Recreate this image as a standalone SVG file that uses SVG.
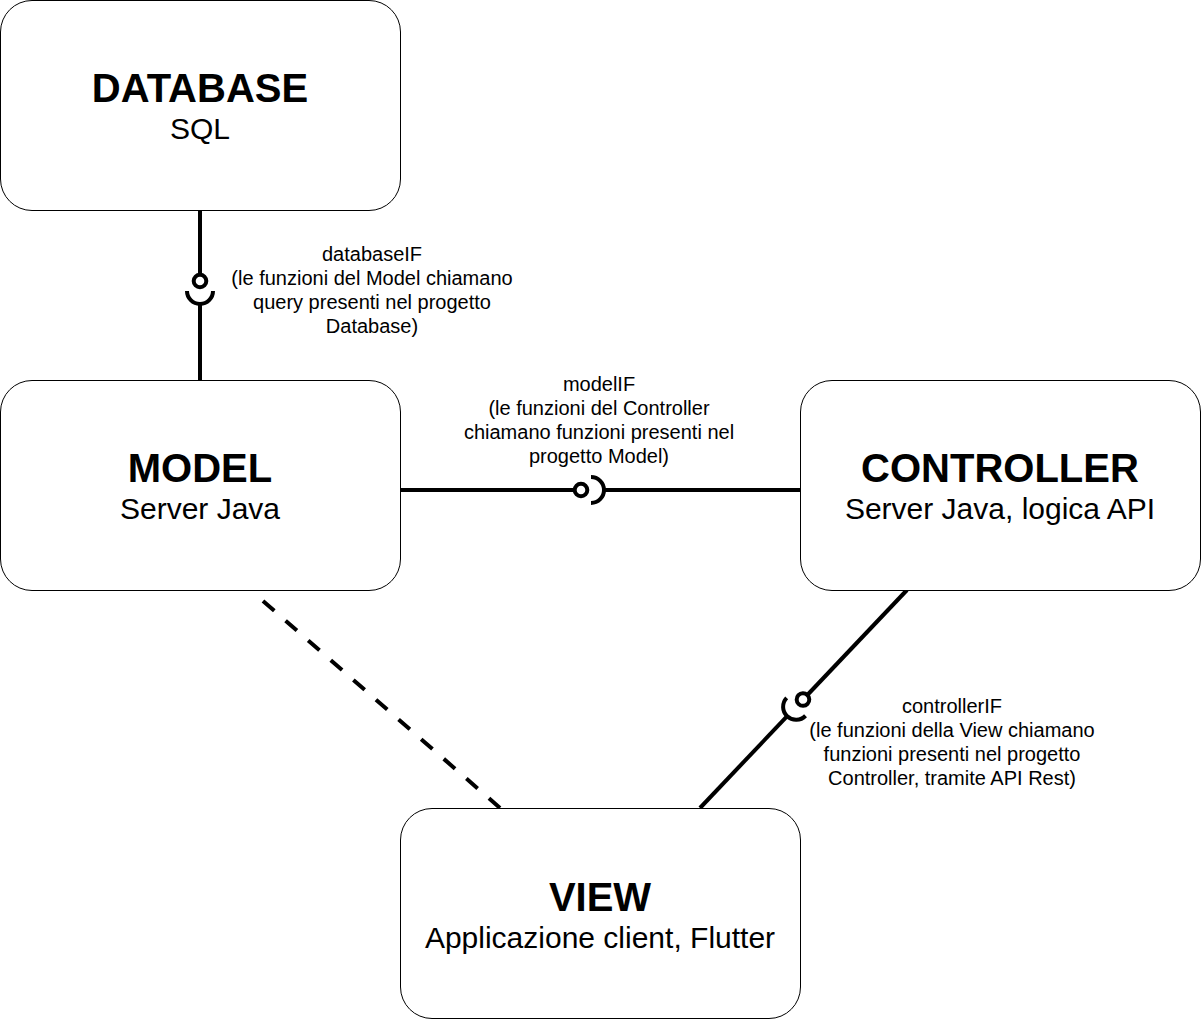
<svg xmlns="http://www.w3.org/2000/svg" width="1201" height="1020" viewBox="0 0 1201 1020">
  <style>
    .box { fill: #ffffff; stroke: #000000; stroke-width: 1; }
    .title { font-family: "Liberation Sans", Arial, sans-serif; font-size: 40px; font-weight: bold; fill: #000; text-anchor: middle; }
    .sub { font-family: "Liberation Sans", Arial, sans-serif; font-size: 30px; fill: #000; text-anchor: middle; }
    .lbl { font-family: "Liberation Sans", Arial, sans-serif; font-size: 20px; fill: #000; text-anchor: middle; }
    .conn { stroke: #000; stroke-width: 4; fill: none; }
    .dash { stroke: #000; stroke-width: 4; fill: none; stroke-dasharray: 15 15; }
    .ball { fill: #ffffff; stroke: #000; stroke-width: 4; }
  </style>
  <defs>
    <g id="iface">
      <circle class="ball" cx="-10" cy="0" r="6.3"/>
      <path class="conn" d="M0,-13 A13,13 0 0 1 0,13"/>
    </g>
  </defs>
  <rect width="1201" height="1020" fill="#ffffff"/>

  <g id="connectors">
    <!-- Database - Model -->
    <line class="conn" x1="200" y1="210" x2="200" y2="282"/>
    <line class="conn" x1="200" y1="303" x2="200" y2="380"/>
    <use href="#iface" transform="translate(200,291) rotate(90)"/>
    <!-- Model - Controller -->
    <line class="conn" x1="400" y1="490" x2="581" y2="490"/>
    <line class="conn" x1="602" y1="490" x2="800" y2="490"/>
    <use href="#iface" transform="translate(591,490)"/>
    <!-- Controller - View -->
    <line class="conn" x1="907" y1="590" x2="802.6" y2="700"/>
    <line class="conn" x1="787.4" y1="715.9" x2="700" y2="808"/>
    <use href="#iface" transform="translate(796.1,706.8) rotate(133.5)"/>
    <!-- Model - View dashed -->
    <line class="dash" x1="263" y1="601" x2="500" y2="808"/>
  </g>

  <g id="labels">
    <text class="lbl" x="372" y="261">databaseIF</text>
    <text class="lbl" x="372" y="285">(le funzioni del Model chiamano</text>
    <text class="lbl" x="372" y="309">query presenti nel progetto</text>
    <text class="lbl" x="372" y="333">Database)</text>

    <text class="lbl" x="599" y="391">modelIF</text>
    <text class="lbl" x="599" y="415">(le funzioni del Controller</text>
    <text class="lbl" x="599" y="439">chiamano funzioni presenti nel</text>
    <text class="lbl" x="599" y="463">progetto Model)</text>

    <text class="lbl" x="952" y="713">controllerIF</text>
    <text class="lbl" x="952" y="737">(le funzioni della View chiamano</text>
    <text class="lbl" x="952" y="761">funzioni presenti nel progetto</text>
    <text class="lbl" x="952" y="785">Controller, tramite API Rest)</text>
  </g>

  <g id="database">
    <rect class="box" x="0.5" y="0.5" width="400" height="210" rx="31.5" ry="31.5"/>
    <text class="title" x="200" y="102">DATABASE</text>
    <text class="sub" x="200" y="139">SQL</text>
  </g>

  <g id="model">
    <rect class="box" x="0.5" y="380.5" width="400" height="210" rx="31.5" ry="31.5"/>
    <text class="title" x="200" y="482">MODEL</text>
    <text class="sub" x="200" y="519">Server Java</text>
  </g>

  <g id="controller">
    <rect class="box" x="800.5" y="380.5" width="400" height="210" rx="31.5" ry="31.5"/>
    <text class="title" x="1000" y="482">CONTROLLER</text>
    <text class="sub" x="1000" y="519">Server Java, logica API</text>
  </g>

  <g id="view">
    <rect class="box" x="400.5" y="808.5" width="400" height="210" rx="31.5" ry="31.5"/>
    <text class="title" x="600" y="911">VIEW</text>
    <text class="sub" x="600" y="948">Applicazione client, Flutter</text>
  </g>
</svg>
